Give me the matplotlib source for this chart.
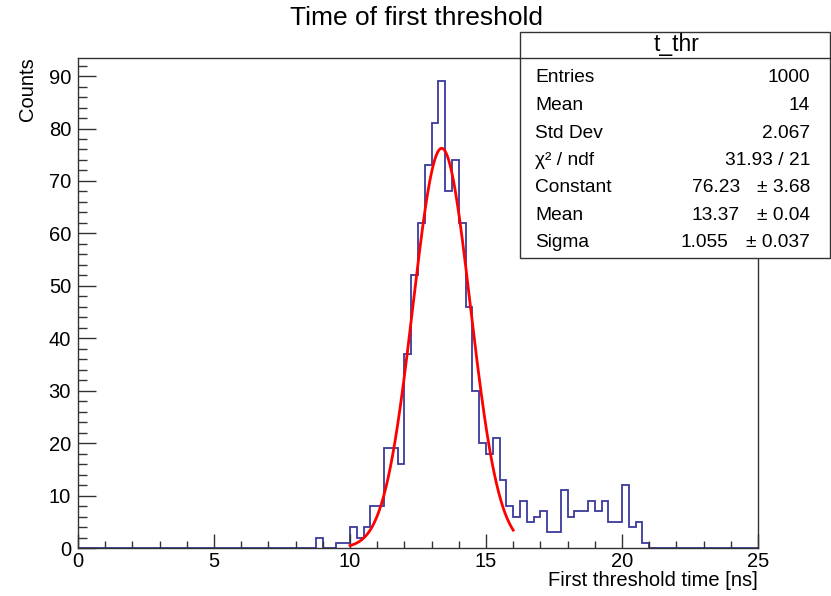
import matplotlib
matplotlib.use("Agg")
import matplotlib.pyplot as plt
import numpy as np
from matplotlib.patches import Rectangle
from matplotlib.lines import Line2D

plt.rcParams['font.family'] = ['Liberation Sans', 'DejaVu Sans']

# histogram: 100 bins from 0 to 25 ns
x_min, x_max, n_bins = 0.0, 25.0, 100
counts = [0] * 35 + [
    2, 0, 0, 1, 1,                      # 8.75 .. 10.0
    4, 2, 4, 8, 8, 19, 19, 16,          # 10.0 .. 12.0
    37, 52, 62, 73, 81, 89, 68, 74,     # 12.0 .. 14.0
    62, 46, 30, 20, 18, 21, 13, 8,      # 14.0 .. 16.0
    6, 9, 5, 6, 7, 3, 3, 11,            # 16.0 .. 18.0
    6, 7, 7, 9, 7, 9, 5, 5,             # 18.0 .. 20.0
    12, 4, 5, 1,                        # 20.0 .. 21.0
]
counts += [0] * (n_bins - len(counts))

# gaussian fit result
fit_const, fit_mean, fit_sigma = 76.23, 13.37, 1.055
fit_range = (10.0, 16.0)

stats_rows = [
    ("Entries", "1000", None),
    ("Mean", "14", None),
    ("Std Dev", "2.067", None),
    ("\u03c7\u00b2 / ndf", "31.93 / 21", None),
    ("Constant", "76.23", "\u00b1 3.68"),
    ("Mean", "13.37", "\u00b1 0.04"),
    ("Sigma", "1.055", "\u00b1 0.037"),
]

W, H = 831, 596
fig = plt.figure(figsize=(W / 100, H / 100), dpi=100)
ax = fig.add_axes([78 / W, 1 - 548 / H, 680 / W, 490 / H])

edges = np.linspace(x_min, x_max, n_bins + 1)
ax.stairs(counts, edges, color='#3a3a9c', linewidth=1.3)

xf = np.linspace(fit_range[0], fit_range[1], 300)
ax.plot(xf, fit_const * np.exp(-0.5 * ((xf - fit_mean) / fit_sigma) ** 2),
        color='red', linewidth=2.0)

ax.set_xlim(x_min, x_max)
ax.set_ylim(0, max(counts) * 1.05)
ax.set_xticks(np.arange(0, 26, 5))
ax.set_xticks(np.arange(0, 26, 1), minor=True)
ax.set_yticks(np.arange(0, 91, 10))
ax.set_yticks(np.arange(0, 93, 2), minor=True)

for s in ax.spines.values():
    s.set_color('#333333')
    s.set_linewidth(1.0)
ax.tick_params(axis='both', which='both', direction='in', top=False, right=False,
               colors='#333333', labelcolor='black', labelsize=14.5, width=1.0)
ax.tick_params(axis='x', which='major', length=10, pad=3)
ax.tick_params(axis='x', which='minor', length=5)
ax.tick_params(axis='y', which='major', length=13, pad=5)
ax.tick_params(axis='y', which='minor', length=6.5)

fig.text(416 / W, 1 - 18 / H, "Time of first threshold", ha='center', va='center', fontsize=19)
fig.text(28 / W, 1 - 57 / H, "Counts", rotation=90, ha='center', va='top', fontsize=14.5)
fig.text(758 / W, 1 - 580 / H, "First threshold time [ns]", ha='right', va='center', fontsize=14.5)

# stats box
bx0, by0, bx1, by1 = 520, 32, 830, 258
fig.add_artist(Rectangle((bx0 / W, 1 - by1 / H), (bx1 - bx0) / W, (by1 - by0) / H,
                         transform=fig.transFigure, facecolor='white',
                         edgecolor='#333333', linewidth=1.0))
fig.add_artist(Line2D([bx0 / W, bx1 / W], [1 - 58 / H, 1 - 58 / H],
                      transform=fig.transFigure, color='#333333', linewidth=1.0))
fig.text(677 / W, 1 - 45 / H, "t_thr", ha='center', va='center', fontsize=16.5)
row_y = [78, 105, 133, 160, 188, 215, 243]
for (name, val, err), yy in zip(stats_rows, row_y):
    fig.text(535 / W, 1 - yy / H, name, ha='left', va='center', fontsize=13.8)
    if err is None:
        fig.text(810 / W, 1 - yy / H, val, ha='right', va='center', fontsize=13.8)
    else:
        vx = 728 if name == "Sigma" else 740
        fig.text(vx / W, 1 - yy / H, val, ha='right', va='center', fontsize=13.8)
        fig.text(810 / W, 1 - yy / H, err, ha='right', va='center', fontsize=13.8)

fig.savefig("out.png", dpi=100)
